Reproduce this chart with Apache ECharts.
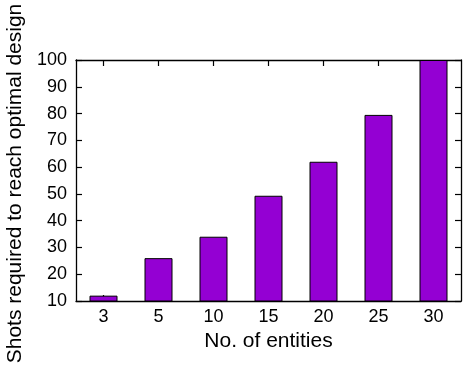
<!DOCTYPE html>
<html>
<head>
<meta charset="utf-8">
<script src="https://cdn.jsdelivr.net/npm/echarts@6/dist/echarts.min.js"></script>
<style>
html,body{margin:0;padding:0;background:#fff;}
#chart{width:464px;height:369px;}
</style>
</head>
<body>
<div id="chart"></div>
<script>
const categories = ['3', '5', '10', '15', '20', '25', '30'];
const shots = [12, 26, 34, 49.3, 62, 79.5, 100];
const yTicks = [10, 20, 30, 40, 50, 60, 70, 80, 90, 100];

const font = 'Liberation Sans, Arial, Helvetica, sans-serif';
const chart = echarts.init(document.getElementById('chart'));
const axisLine = {show: true, lineStyle: {color: '#000', width: 1.3}};
const tick = {show: true, inside: true, length: 6, lineStyle: {color: '#000', width: 1.2}};
chart.setOption({
  animation: false,
  grid: {left: 76, right: 3, top: 60, bottom: 68, containLabel: false, outerBoundsMode: 'none'},
  xAxis: [{
    type: 'category', data: categories, position: 'bottom',
    axisLine: axisLine,
    axisTick: Object.assign({alignWithLabel: true}, tick),
    axisLabel: {color: '#000', fontSize: 18, fontFamily: font, margin: 7},
    name: 'No. of entities', nameLocation: 'middle', nameGap: 30,
    nameTextStyle: {color: '#000', fontSize: 21, fontFamily: font}
  }, {
    type: 'category', data: categories, position: 'top',
    axisLine: axisLine,
    axisTick: Object.assign({alignWithLabel: true}, tick),
    axisLabel: {show: false}
  }],
  yAxis: [{
    type: 'value', min: yTicks[0], max: yTicks[yTicks.length - 1], interval: 10,
    axisLine: axisLine, axisTick: tick, splitLine: {show: false},
    axisLabel: {color: '#000', fontSize: 18, fontFamily: font, margin: 9},
    name: 'Shots required to reach optimal design', nameLocation: 'middle', nameGap: 47,
    nameTextStyle: {color: '#000', fontSize: 21, fontFamily: font, padding: [0, 6, 0, 0]}
  }, {
    type: 'value', min: yTicks[0], max: yTicks[yTicks.length - 1], interval: 10, position: 'right',
    axisLine: axisLine, axisTick: tick, splitLine: {show: false},
    axisLabel: {show: false}
  }],
  series: [{
    type: 'bar', data: shots, barWidth: 28,
    itemStyle: {color: '#9400D3', borderColor: '#000', borderWidth: 1}
  }]
});
</script>
</body>
</html>
